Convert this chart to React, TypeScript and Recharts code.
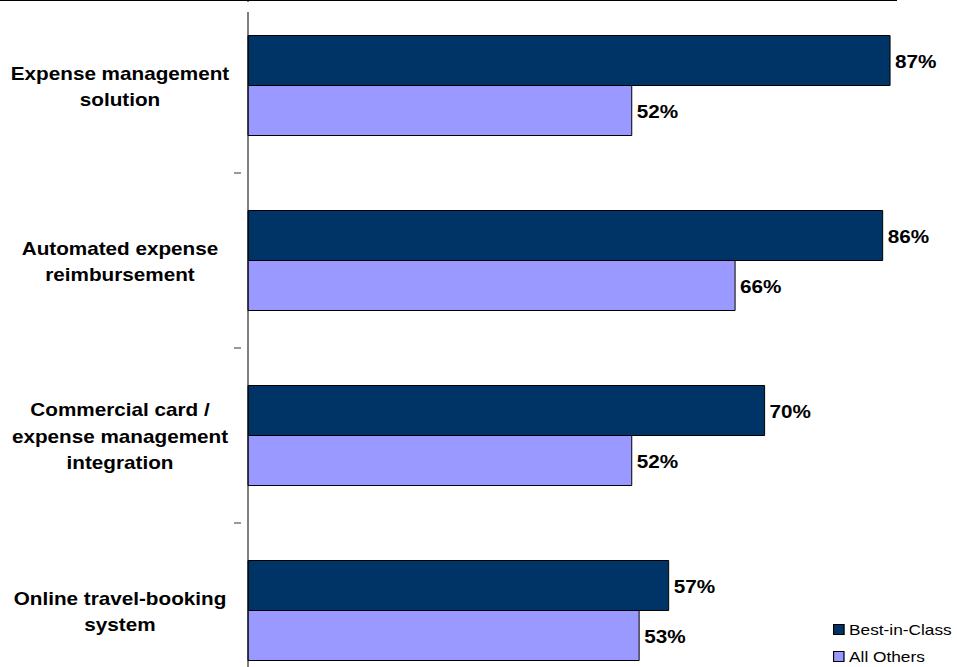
import React from "react";
import { BarChart, Bar, XAxis, YAxis, LabelList, Legend } from "recharts";

const categories = [
  "Expense management solution",
  "Automated expense reimbursement",
  "Commercial card / expense management integration",
  "Online travel-booking system",
];
const categoryLines = [
  ["Expense management", "solution"],
  ["Automated expense", "reimbursement"],
  ["Commercial card /", "expense management", "integration"],
  ["Online travel-booking", "system"],
];
const bestInClass = [87, 86, 70, 57];
const allOthers = [52, 66, 52, 53];
const seriesNames = ["Best-in-Class", "All Others"];
const seriesColors = ["#003366", "#9999FF"];

const data = categories.map((name, i) => ({
  name,
  best: bestInClass[i],
  others: allOthers[i],
}));

const FONT = "'Liberation Sans', Arial, Helvetica, sans-serif";
const STRETCH = 1.15;

const CategoryTick = (props: any) => {
  const { x, y, payload } = props;
  const idx = payload.index ?? categories.indexOf(payload.value);
  const lines = categoryLines[idx] || [String(payload.value)];
  const off = payload.offset ?? 87.5;
  const lh = 26.5;
  return (
    <g>
      <line x1={x + 1} x2={x - 6} y1={y - off} y2={y - off} stroke="#333" strokeWidth={1} />
      {lines.map((ln: string, i: number) => (
        <text
          key={i}
          transform={`translate(120, ${y + (i - (lines.length - 1) / 2) * lh + 1}) scale(${STRETCH}, 1)`}
          x={0}
          y={0}
          textAnchor="middle"
          dominantBaseline="central"
          fontFamily={FONT}
          fontWeight="bold"
          fontSize={18}
          fill="#000"
        >
          {ln}
        </text>
      ))}
    </g>
  );
};

const ValueLabel = (props: any) => {
  const { x, y, width, height, value } = props;
  return (
    <text
      transform={`translate(${x + width + 5}, ${y + height / 2 + 1}) scale(${STRETCH}, 1)`}
      x={0}
      y={0}
      textAnchor="start"
      dominantBaseline="central"
      fontFamily={FONT}
      fontWeight="bold"
      fontSize={18}
      fill="#000"
    >
      {`${value}%`}
    </text>
  );
};

const LegendContent = () => (
  <div
    style={{
      fontFamily: FONT,
      fontSize: 15,
      color: "#000",
      transform: `scaleX(${STRETCH})`,
      transformOrigin: "0 0",
    }}
  >
    {seriesNames.map((n, i) => (
      <div key={n} style={{ display: "flex", alignItems: "center", height: 27 }}>
        <span
          style={{
            display: "inline-block",
            width: 8,
            height: 9,
            background: seriesColors[i],
            border: "1px solid #000",
            marginRight: 4,
          }}
        />
        <span>{n}</span>
      </div>
    ))}
  </div>
);

export default function App() {
  return (
    <div
      style={{
        position: "absolute",
        left: 0,
        top: 0,
        width: 957,
        height: 667,
        overflow: "hidden",
        background: "#fff",
      }}
    >
      <div style={{ position: "absolute", left: 0, top: -2.5 }}>
        <BarChart
          layout="vertical"
          width={1000}
          height={700}
          data={data}
          margin={{ top: 0, right: 14, bottom: 0, left: 0 }}
          barCategoryGap={37.5}
          barGap={0}
        >
          <XAxis type="number" domain={[0, 100]} hide />
          <YAxis
            type="category"
            dataKey="name"
            width={248}
            axisLine={{ stroke: "#000", strokeWidth: 1 }}
            tickLine={false}
            tick={<CategoryTick />}
            interval={0}
          />
          <Legend
            layout="vertical"
            align="center"
            verticalAlign="middle"
            content={<LegendContent />}
            wrapperStyle={{ position: "absolute", left: 833, top: 618, width: 130, height: 60 }}
          />
          <Bar
            dataKey="best"
            name={seriesNames[0]}
            fill={seriesColors[0]}
            stroke="#000"
            strokeWidth={1}
            isAnimationActive={false}
          >
            <LabelList dataKey="best" content={<ValueLabel />} />
          </Bar>
          <Bar
            dataKey="others"
            name={seriesNames[1]}
            fill={seriesColors[1]}
            stroke="#000"
            strokeWidth={1}
            isAnimationActive={false}
          >
            <LabelList dataKey="others" content={<ValueLabel />} />
          </Bar>
        </BarChart>
      </div>
      <div style={{ position: "absolute", left: 244, top: 2, width: 8, height: 10, background: "#fff" }} />
      <div style={{ position: "absolute", left: 0, top: 0, width: 897, height: 0, borderTop: "1px solid #000" }} />
    </div>
  );
}
